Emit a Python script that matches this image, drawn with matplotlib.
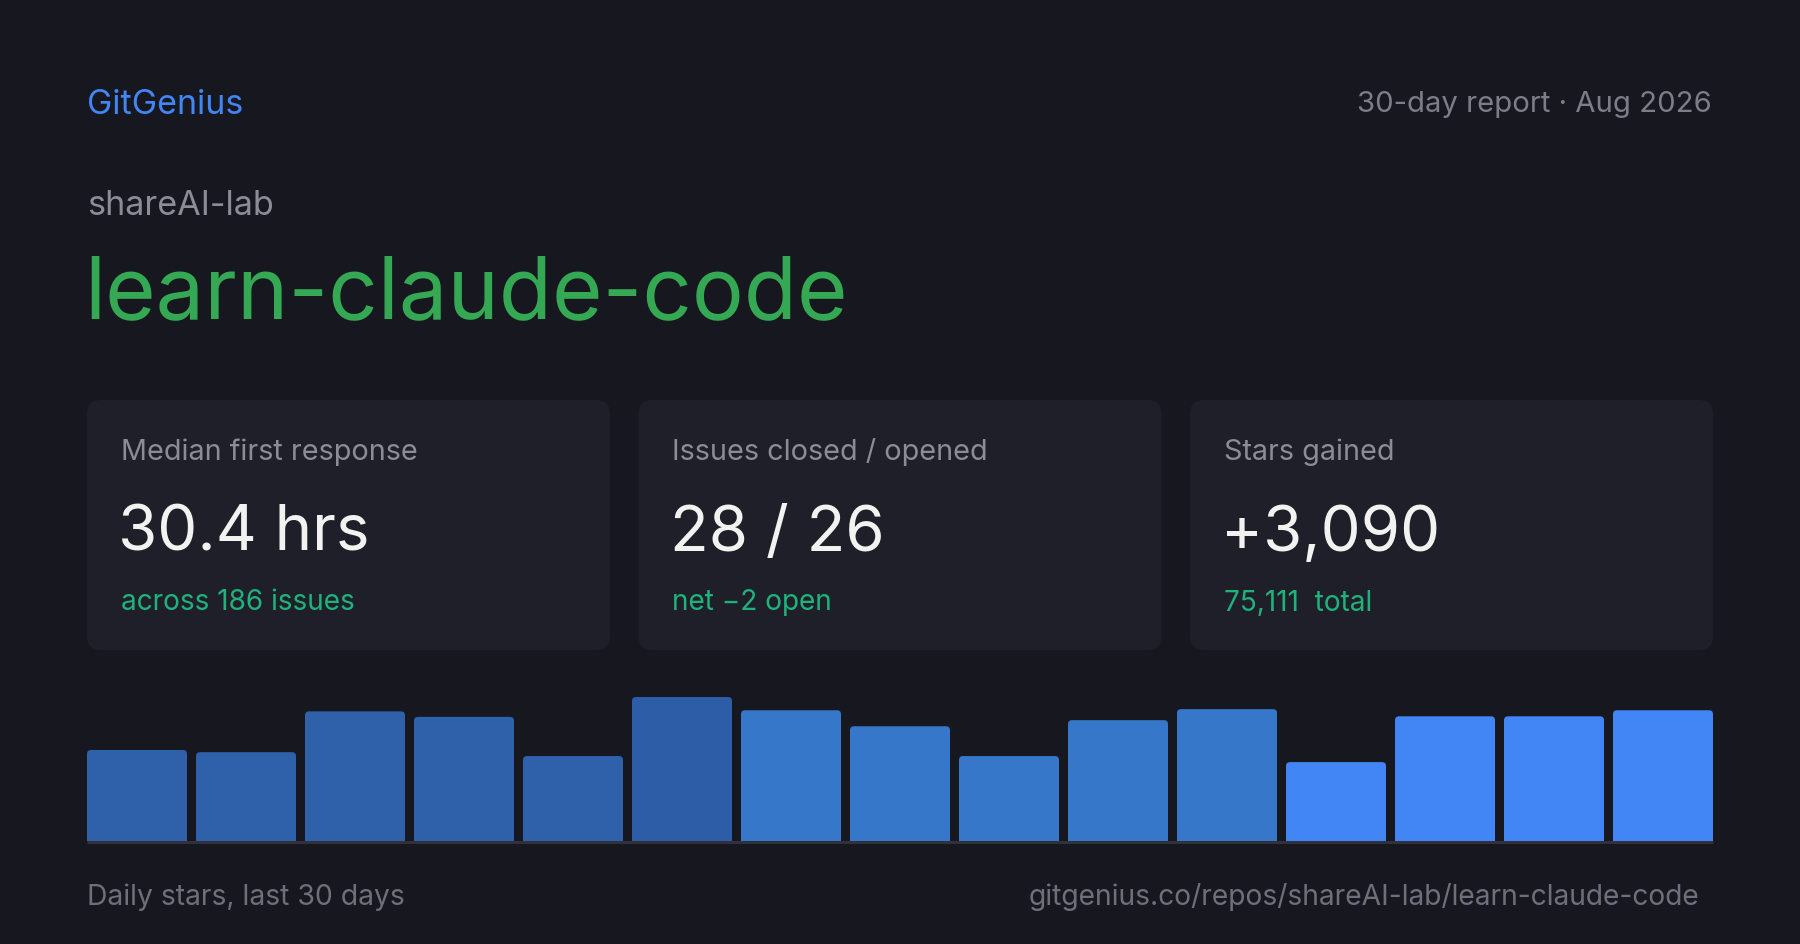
import matplotlib
matplotlib.use("Agg")
import matplotlib.pyplot as plt
from matplotlib.patches import FancyBboxPatch

# ---- data ----
brand = "GitGenius"
report_label = "30-day report · Aug 2026"
owner = "shareAI-lab"
repo = "learn-claude-code"
card_labels = ["Median first response", "Issues closed / opened", "Stars gained"]
card_values = ["30.4 hrs", "28 / 26", "+3,090"]
card_notes = ["across 186 issues", "net \u22122 open", "75,111  total"]
daily_stars = [165, 161, 235, 225, 154, 261, 237, 208, 154, 219, 239, 143, 226, 226, 237]
bar_colors = ["#2f60aa"] * 5 + ["#2d5da7"] + ["#3677c9"] * 5 + ["#4285f4"] * 4
footer_left = "Daily stars, last 30 days"
footer_right = "gitgenius.co/repos/shareAI-lab/learn-claude-code"

# ---- style ----
BG = "#16171f"
CARD = "#1f1f2a"
plt.rcParams["font.family"] = ["Inter", "DejaVu Sans"]

W, H = 1800, 945
fig = plt.figure(figsize=(W / 100, H / 100), dpi=100, facecolor=BG)
ax0 = fig.add_axes([0, 0, 1, 1])
ax0.set_xlim(0, W)
ax0.set_ylim(H, 0)
ax0.axis("off")
ax0.set_facecolor(BG)

def px(v):
    return v * 0.72

ax0.text(87, 105, brand, color="#4285f4", fontsize=px(34), va="center", ha="left")
ax0.text(1712, 104, report_label, color="#7c7d87", fontsize=px(29.3), va="center", ha="right")
ax0.text(87, 206, owner, color="#8b8c96", fontsize=px(34.2), va="center", ha="left")
ax0.text(84, 296, repo, color="#34a853", fontsize=px(86.7), va="center", ha="left")

# cards
card_left = 87
card_w = 523
gap = 28.5
card_top = 401
card_h = 250
for i in range(3):
    x0 = card_left + i * (card_w + gap)
    box = FancyBboxPatch((x0, card_top), card_w, card_h,
                         boxstyle="round,pad=0,rounding_size=14",
                         facecolor=CARD, edgecolor="none")
    ax0.add_patch(box)
    ax0.text(x0 + 34, 452, card_labels[i], color="#8b8c96", fontsize=px(28.8), va="center", ha="left")
    ax0.text(x0 + 31, 534, card_values[i], color="#f2f2f0", fontsize=px(63.6), va="center", ha="left")
    ax0.text(x0 + 34, 603, card_notes[i], color="#1fb27a", fontsize=px(28), va="center", ha="left")

# bars
bar_left, bar_right = 87, 1713
base_y, top_y = 842, 698
n = len(daily_stars)
pitch = (bar_right - bar_left + 9) / n
bw = (pitch - 9) / pitch
axb = fig.add_axes([bar_left / W, (H - base_y) / H, (bar_right - bar_left) / W, (base_y - top_y) / H])
axb.set_facecolor("none")
ymax = max(daily_stars)
bars = axb.bar(range(n), daily_stars, width=bw, color=bar_colors, edgecolor="none")
axb.set_xlim(-bw / 2, n - 1 + bw / 2)
axb.set_ylim(0, ymax)
axb.axis("off")
# rounded top corners: replace rectangles with rounded boxes extended below baseline
x_per_px = 1.0 / pitch
y_per_px = ymax / (base_y - top_y)
r_px = 4
for rect in bars:
    rect.set_visible(False)
    rb = FancyBboxPatch((rect.get_x(), -r_px * y_per_px), rect.get_width(),
                        rect.get_height() + r_px * y_per_px,
                        boxstyle=f"round,pad=0,rounding_size={r_px * x_per_px}",
                        mutation_aspect=y_per_px / x_per_px,
                        facecolor=rect.get_facecolor(), edgecolor="none")
    axb.add_patch(rb)
    rb.set_clip_path(axb.patch)
ax0.plot([bar_left, bar_right], [base_y + 1, base_y + 1], color="#30313b", lw=2.2, solid_capstyle="butt")

ax0.text(87, 897, footer_left, color="#6e6f7a", fontsize=px(28.3), va="center", ha="left")
ax0.text(1699, 897, footer_right, color="#6e6f7a", fontsize=px(28.2), va="center", ha="right")

fig.savefig("out.png", dpi=100, facecolor=BG)
